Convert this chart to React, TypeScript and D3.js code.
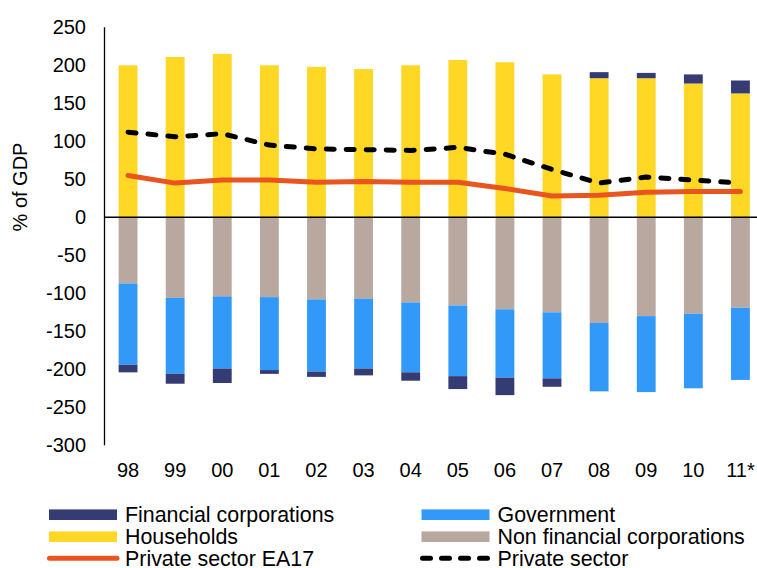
import React from "react";
import * as d3 from "d3";

const years = ["98", "99", "00", "01", "02", "03", "04", "05", "06", "07", "08", "09", "10", "11*"];
const households = [200, 211, 215, 200, 198, 195, 200, 207, 204, 188, 183, 183, 176, 163];
const financial = [-10, -13, -19, -5, -7, -9, -11, -17, -23, -11, 8, 7, 12, 17];
const nonFinancial = [-87, -106, -104, -105, -108, -107, -112, -116, -121, -125, -139, -130, -127, -119];
const government = [-107, -100, -95, -96, -95, -92, -92, -93, -90, -87, -90, -100, -98, -95];
const privateSector = [112, 106, 110, 95, 90, 89, 88, 92, 83, 63, 45, 53, 49, 45];
const privateEA17 = [55, 45, 49, 49, 46, 47, 46, 46, 38, 28, 29, 33, 34, 34];
const yTicks = [250, 200, 150, 100, 50, 0, -50, -100, -150, -200, -250, -300];

const C_FIN = "#353C74";
const C_GOV = "#3399F9";
const C_HH = "#FFD724";
const C_NFC = "#B8A8A0";
const C_EA = "#E8551E";

export default function App() {
  const W = 757, H = 568;
  const x = d3.scaleBand<string>().domain(years).range([104.5, 764]).paddingInner(0.6).paddingOuter(0.3);
  const y = d3.scaleLinear().domain([-300, 250]).range([445.3, 27.3]);
  const bw = x.bandwidth();
  const cx = (i: number) => (x(years[i]) as number) + bw / 2;

  type Seg = { key: string; i: number; y0: number; y1: number; color: string };
  const segs: Seg[] = [];
  years.forEach((yr, i) => {
    let pos = 0, neg = 0;
    const add = (v: number, color: string, key: string) => {
      if (v >= 0) { segs.push({ key, i, y0: pos, y1: pos + v, color }); pos += v; }
      else { segs.push({ key, i, y0: neg, y1: neg + v, color }); neg += v; }
    };
    add(households[i], C_HH, "hh");
    add(nonFinancial[i], C_NFC, "nfc");
    add(government[i], C_GOV, "gov");
    add(financial[i], C_FIN, "fin");
  });

  const line = d3.line<number>().x((_, i) => cx(i)).y((d) => y(d));
  const font = "Arial, 'Liberation Sans', sans-serif";

  const legendItems = [
    { label: "Financial corporations", type: "rect", color: C_FIN, col: 0, row: 0 },
    { label: "Government", type: "rect", color: C_GOV, col: 1, row: 0 },
    { label: "Households", type: "rect", color: C_HH, col: 0, row: 1 },
    { label: "Non financial corporations", type: "rect", color: C_NFC, col: 1, row: 1 },
    { label: "Private sector EA17", type: "line", color: C_EA, col: 0, row: 2 },
    { label: "Private sector", type: "dash", color: "#000", col: 1, row: 2 },
  ];
  const colX = [49, 421.5];
  const rowY = [514.7, 536.7, 558.3];

  return (
    <svg width={W} height={H} style={{ position: "absolute", left: 0, top: 0, background: "#fff" }} fontFamily={font}>
      {segs.map((s, k) => (
        <rect key={k} x={x(years[s.i])} width={bw}
          y={y(Math.max(s.y0, s.y1))} height={Math.abs(y(s.y0) - y(s.y1))} fill={s.color} />
      ))}
      <line x1={104.5} x2={W} y1={y(0)} y2={y(0)} stroke="#000" strokeWidth={1.5} />
      <line x1={104.5} x2={104.5} y1={y(250)} y2={y(-300)} stroke="#000" strokeWidth={1.3} />
      {yTicks.map((t) => (
        <text key={t} x={86} y={y(t)} dy="0.35em" textAnchor="end" fontSize={20} fill="#000">{t}</text>
      ))}
      <text transform={`translate(27,187) rotate(-90)`} textAnchor="middle" fontSize={20} fill="#000">% of GDP</text>
      {years.map((yr, i) => (
        <text key={yr} x={cx(i)} y={470} dy="0.35em" textAnchor="middle" fontSize={20} fill="#000">{yr}</text>
      ))}
      <path d={line(privateEA17) || ""} fill="none" stroke={C_EA} strokeWidth={5} strokeLinejoin="round" strokeLinecap="round" />
      <path d={line(privateSector) || ""} fill="none" stroke="#000" strokeWidth={5} strokeDasharray="8 12" strokeLinecap="round" strokeLinejoin="round" />
      {legendItems.map((it) => {
        const lx = colX[it.col];
        const ly = rowY[it.row];
        return (
          <g key={it.label}>
            {it.type === "rect" && <rect x={lx} y={ly - 5.3} width={68} height={10.6} fill={it.color} />}
            {it.type === "line" && <line x1={lx + 0.5} x2={lx + 68} y1={ly} y2={ly} stroke={it.color} strokeWidth={5} strokeLinecap="round" />}
            {it.type === "dash" && <line x1={lx + 1} x2={lx + 68} y1={ly} y2={ly} stroke={it.color} strokeWidth={5} strokeLinecap="round" strokeDasharray="8 11" />}
            <text x={lx + 76} y={ly} dy="0.35em" fontSize={21.4} fill="#000">{it.label}</text>
          </g>
        );
      })}
    </svg>
  );
}
